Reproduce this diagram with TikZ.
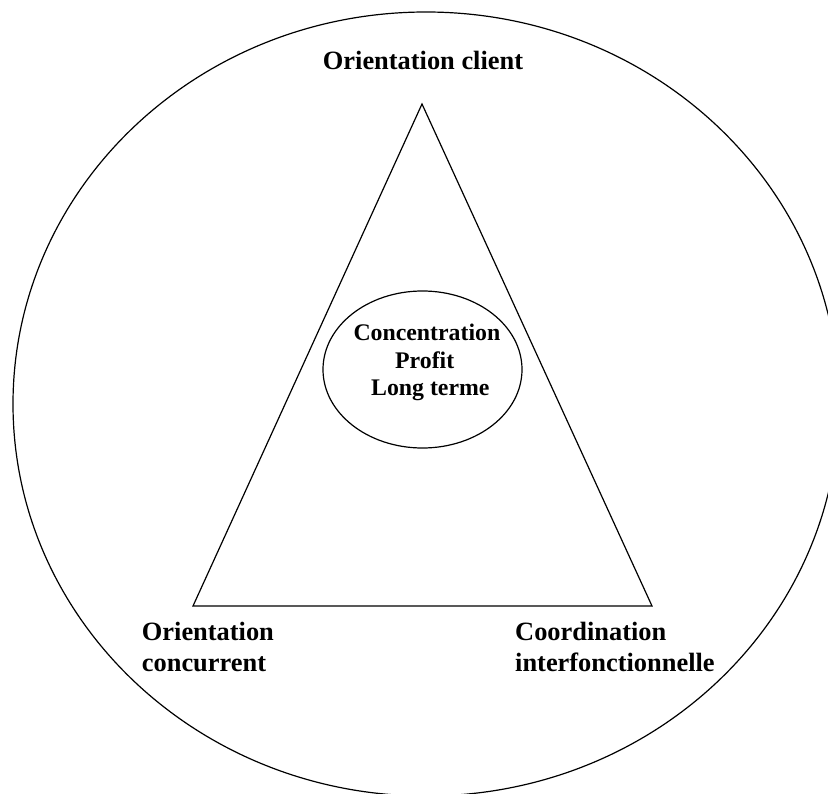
\documentclass[tikz,border=0pt]{standalone}
\usepackage{fontspec}
\setmainfont{Liberation Serif}
\begin{document}
\begin{tikzpicture}[x=1pt,y=-1pt,
  lbl/.style={font=\bfseries\fontsize{26.4}{31}\selectfont, inner sep=0pt, anchor=base west},
  core/.style={font=\bfseries\fontsize{23.8}{28}\selectfont, inner sep=0pt, anchor=base west},
  line/.style={line width=1.2pt, line join=miter}]
\useasboundingbox (0,0) rectangle (828,794);
\begin{scope}
  \clip (0,0) rectangle (828,794);
  \draw[line] (426,404) ellipse [x radius=413pt, y radius=392pt];
\end{scope}
\coordinate (apex) at (422,104);
\coordinate (bl) at (193,606);
\coordinate (br) at (652,606);
\draw[line] (apex) -- (bl) -- (br) -- cycle;
\draw[line] (422.5,369.5) ellipse [x radius=99.5pt, y radius=78.5pt];
\node[lbl] (client) at (322.7,70) {Orientation client};
\node[core] (c1) at (353.3,340.7) {Concentration};
\node[core] (c2) at (395,368.3) {Profit};
\node[core] (c3) at (371,396) {Long terme};
\node[lbl] (oc1) at (141.7,640.7) {Orientation};
\node[lbl] (oc2) at (141.7,671) {concurrent};
\node[lbl] (ci1) at (515,640.7) {Coordination};
\node[lbl] (ci2) at (515,671) {interfonctionnelle};
\end{tikzpicture}
\end{document}
